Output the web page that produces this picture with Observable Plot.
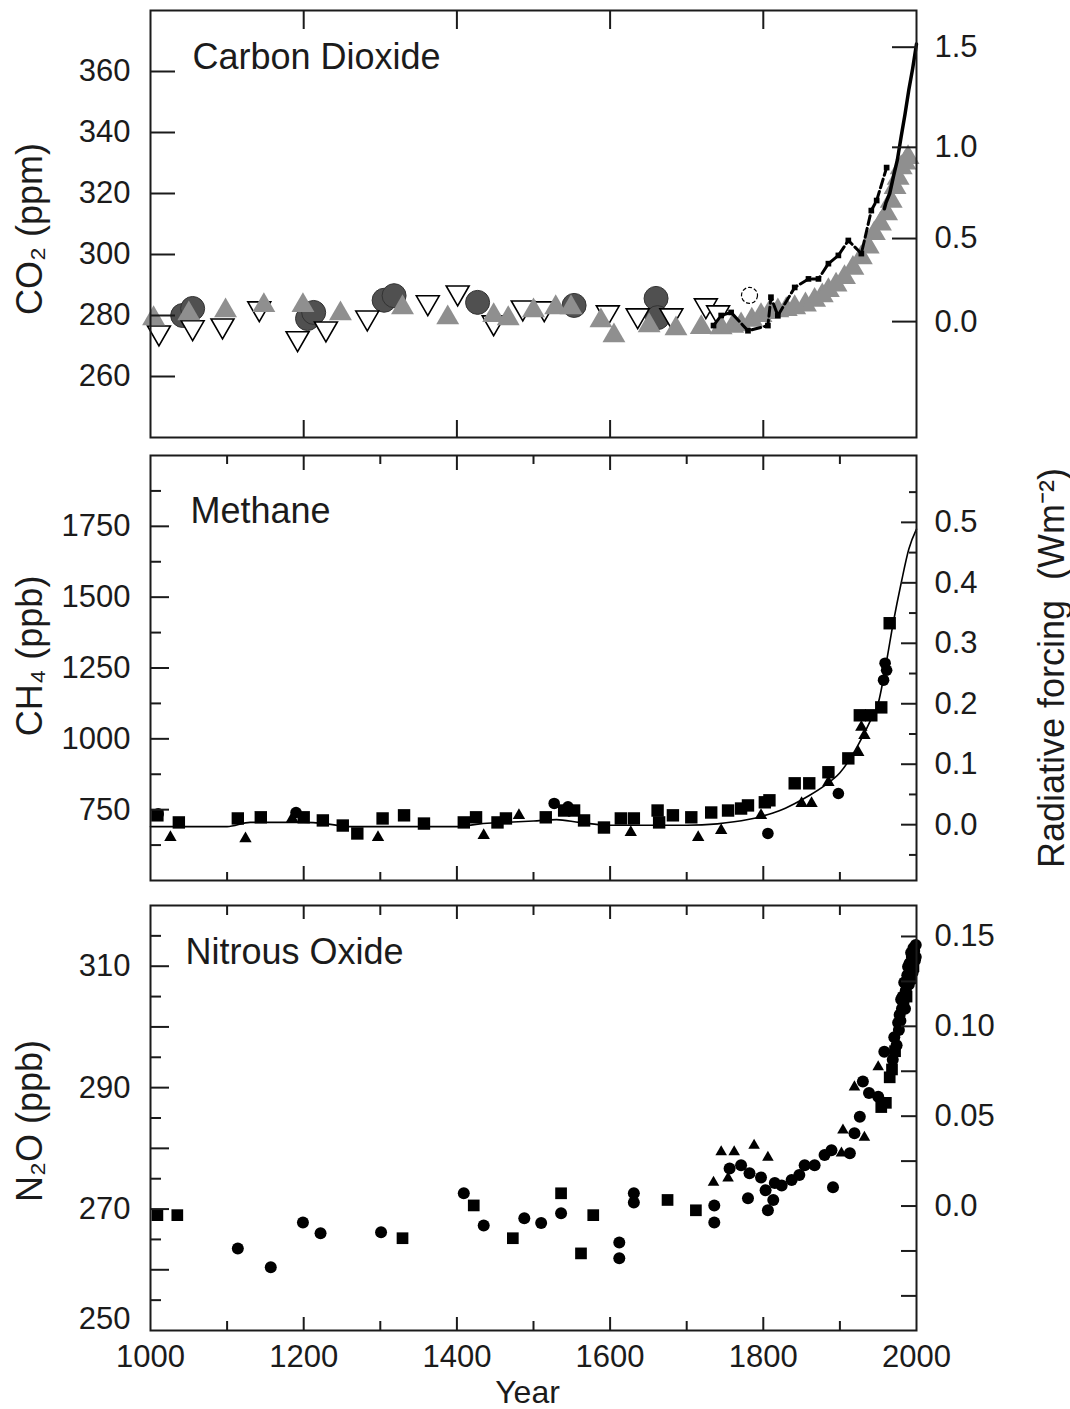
<!DOCTYPE html>
<html>
<head>
<meta charset="utf-8">
<script src="https://cdn.jsdelivr.net/npm/d3@7"></script>
<script src="https://cdn.jsdelivr.net/npm/@observablehq/plot@0.6"></script>
<style>
  body { margin: 0; background: #fff; }
  #chart { width: 1070px; height: 1409px; position: relative; background: #fff; }
  #chart svg { display: block; }
</style>
</head>
<body>
<div id="chart"></div>
<script>
// ---------------- DATA ----------------
// Carbon dioxide (ppm): [year, value]
const co2GreyTriangles = [
  [1004,279],[1050,280.6],[1098,281.6],[1148,283.3],[1199,283.3],[1248,280.6],[1329,282.6],
  [1388,279.3],[1448,280],[1467,279],[1500,281.6],[1529,282.6],[1549,282.6],[1588,278.3],
  [1605,273.4],[1651,276.7],[1686,275.7],[1719,276.1],[1745,276],[1760,276.5],[1771,277],
  [1785,278.5],[1797,280],[1808,281],[1819,281.6],[1830,282],[1841,282.6],[1855,283.5],
  [1867,285],[1877,286.5],[1885,288.2],[1895,290],[1906,292.5],[1917,295.5],[1928,299],
  [1937,302.5],[1945,306.9],[1953,310],[1961,313.4],[1967,317.5],[1972,322],[1976,325],
  [1980,328.5],[1985,330],[1989,331.8]
];
const co2OpenTriangles = [
  [1011,274.4],[1055,276.1],[1094,276.7],[1142,282.3],[1192,272.5],[1229,275.7],[1283,279.3],
  [1362,284.3],[1401,287.5],[1448,277.7],[1486,282.6],[1514,282.3],[1597,281],[1636,280],
  [1680,280],[1725,283.3],[1741,281]
];
const co2DarkCircles = [
  [1042,280],[1055,282.3],[1205,279],[1213,281],[1305,285],[1318,286.5],[1427,284.3],
  [1553,283.3],[1660,285.6],[1662,279.3]
];
const co2OpenCircles = [[1782,286.6]];
const co2BlackMarks = [
  [1735,276.7],[1745,280],[1758,281],[1780,275],[1806,276.7],[1810,286],[1819,280],
  [1841,289.2],[1859,292],[1872,292],[1885,297],[1898,299.7],[1911,304.6],[1928,300.3],
  [1941,314.4],[1948,317.7],[1961,328.5]
];
const co2MaunaLoa = [
  [1958,315],[1960,316.9],[1965,320],[1970,325.7],[1975,331],[1980,338.7],[1985,346],
  [1990,354],[1995,361],[2000,369]
];

// Methane (ppb)
const ch4Squares = [
  [1009,730],[1037,705],[1114,719],[1144,723],[1200,723],[1225,712],[1251,694],[1270,666],
  [1303,719],[1331,730],[1357,701],[1409,705],[1425,723],[1453,705],[1464,719],[1516,723],
  [1540,747],[1553,747],[1566,712],[1592,687],[1614,719],[1631,719],[1662,747],[1664,705],
  [1682,730],[1706,723],[1732,740],[1754,747],[1771,754],[1780,765],[1802,776],[1808,783],
  [1841,843],[1860,843],[1885,882],[1911,931],[1926,1083],[1941,1083],[1954,1111],[1965,1408]
];
const ch4Triangles = [
  [1026,652],[1124,648],[1185,719],[1297,652],[1435,659],[1481,730],[1627,670],[1715,652],
  [1745,677],[1797,730],[1850,772],[1863,772],[1885,846],[1924,952],[1932,1012],[1928,1041]
];
const ch4Circles = [
  [1010,735],[1190,740],[1527,772],[1545,760],[1806,666],[1898,807],[1957,1207],[1959,1267],
  [1961,1242]
];
const ch4Fit = [
  [1000,690],[1100,690],[1130,705],[1200,705],[1230,700],[1260,690],[1300,690],[1350,690],
  [1400,690],[1430,700],[1460,705],[1500,710],[1530,715],[1560,705],[1600,695],[1650,695],
  [1700,695],[1740,700],[1780,715],[1800,728],[1820,745],[1840,770],[1860,800],[1880,835],
  [1900,880],[1920,960],[1940,1065],[1950,1125],[1960,1260],[1970,1415],[1980,1550],
  [1990,1670],[2000,1740]
];

// Nitrous oxide (ppb)
const n2oSquares = [
  [1009,269],[1035,269],[1329,265.2],[1422,270.6],[1473,265.2],[1536,272.6],[1562,262.7],
  [1578,269],[1675,271.5],[1712,269.8],[1954,286.8],[1965,291.7],[1960,287.5],[1968,293],
  [1972,296],[1987,305],[1992,308],[1996,310]
];
const n2oCircles = [
  [1114,263.5],[1157,260.4],[1199,267.8],[1222,266],[1301,266.2],[1409,272.6],[1435,267.3],
  [1488,268.5],[1510,267.7],[1536,269.3],[1612,264.5],[1612,261.9],[1631,272.6],[1631,271.1],
  [1736,270.6],[1736,267.8],[1756,276.7],[1771,277.2],[1780,271.8],[1782,275.9],[1797,275.2],
  [1803,273.1],[1806,269.8],[1813,271.5],[1815,274.3],[1824,273.9],[1837,274.8],[1847,275.6],
  [1854,277.2],[1867,277.2],[1880,278.9],[1889,279.7],[1891,273.6],[1913,279.2],[1919,282.5],
  [1926,285.2],[1930,291],[1938,289.1],[1950,288.5],[1958,295.9],[1969,294.6],[1971,298.3],
  [1974,297],[1976,300.7],[1977,299.5],[1978,302],[1979,301],[1980,304.5],[1981,303],
  [1982,305],[1983,304],[1984,307.3],[1985,303],[1986,306],[1988,308.5],[1989,309.9],
  [1990,307],[1991,310.5],[1993,312.2],[1994,311.5],[1995,309],[1996,313],[1997,312.5],
  [1998,311],[1999,313.5],[1999,311.5]
];
const n2oTriangles = [
  [1735,274.4],[1745,279.4],[1754,275.1],[1762,279.4],[1788,280.5],[1806,278.5],[1902,279.2],
  [1904,283],[1932,281.8],[1919,290.1],[1950,293.4]
];

// ---------------- TICKS & LABELS ----------------
const yearMajor = [1200, 1400, 1600, 1800];
const yearMinor = [1100, 1300, 1500, 1700, 1900];
const yearLabels = [1000, 1200, 1400, 1600, 1800, 2000];

const co2Ticks = [260, 280, 300, 320, 340, 360];
const co2ForcingTicks = [0.0, 0.5, 1.0, 1.5];
const co2ForcingLabels = ["0.0", "0.5", "1.0", "1.5"];

const ch4Major = [750, 1000, 1250, 1500, 1750];
const ch4Minor = [625, 875, 1125, 1375, 1625, 1875];
const ch4ForcingTicks = [0.0, 0.1, 0.2, 0.3, 0.4, 0.5];
const ch4ForcingLabels = ["0.0", "0.1", "0.2", "0.3", "0.4", "0.5"];
const ch4ForcingMinor = [-0.05, 0.05, 0.15, 0.25, 0.35, 0.45, 0.55];

const n2oMajor = [260, 270, 280, 290, 300, 310];
const n2oMinor = [255, 265, 275, 285, 295, 305, 315];
const n2oLabels = [270, 290, 310];
const n2oBottomLabel = [250];
const n2oForcingTicks = [-0.05, -0.025, 0.0, 0.025, 0.05, 0.075, 0.10, 0.125, 0.15];
const n2oForcingLabelTicks = [0.0, 0.05, 0.10, 0.15];
const n2oForcingLabels = ["0.0", "0.05", "0.10", "0.15"];

// forcing -> concentration (position of right-hand axis ticks)
const co2FromForcing = f => 278 * Math.exp(f / 5.35);
const ch4FromForcing = f => 697 + 2134 * f;
const n2oFromForcing = f => 270.5 + 296 * f;

// ---------------- STYLE ----------------
const FONT = '"Liberation Sans", Arial, Helvetica, sans-serif';
const INK = "#1b1b1b";
const TICK_FS = 31;
const TITLE_FS = 36;

const rows = a => a.map(([year, value]) => ({year, value}));

function labelMap(pos, labels) {
  const m = new Map();
  pos.forEach((p, i) => m.set(p, labels[i]));
  return m;
}

function base(height, marginTop, marginBottom, domain, marks) {
  return Plot.plot({
    width: 1070, height,
    marginLeft: 150, marginRight: 154, marginTop, marginBottom,
    x: {domain: [1000, 2000]},
    y: {domain},
    style: {fontFamily: FONT, color: INK, background: "white", fontSize: TICK_FS + "px", overflow: "visible"},
    marks
  });
}

const tickX = (ticks, anchor, size) => Plot.axisX(ticks, {
  anchor, tickSize: size, dy: anchor === "top" ? size : -size, fill: "none", strokeWidth: 2
});
const tickY = (ticks, anchor, size) => Plot.axisY(ticks, {
  anchor, tickSize: size, dx: anchor === "left" ? size : -size, fill: "none", strokeWidth: 2
});
const labY = (ticks, anchor, fmt, extra = {}) => Plot.axisY(ticks, {
  anchor, tickSize: 0, tickPadding: anchor === "left" ? 20 : 18, tickFormat: fmt, label: null,
  fontSize: TICK_FS, ...extra
});

// ---------------- PANEL 1: CO2 ----------------
const co2RightPos = co2ForcingTicks.map(co2FromForcing);
const co2RightMap = labelMap(co2RightPos, co2ForcingLabels);

const p1 = base(447, 10, 10, [240, 380], [
  Plot.dot(rows(co2DarkCircles), {x: "year", y: "value", r: 12, fill: "#505050", stroke: "#333", strokeWidth: 1}),
  Plot.dot(rows(co2OpenTriangles), {x: "year", y: "value", symbol: "triangle", rotate: 180, r: 8.5, fill: "white", stroke: "black", strokeWidth: 1.6}),
  Plot.dot(rows(co2GreyTriangles), {x: "year", y: "value", symbol: "triangle", r: 8.5, fill: "#8f8f8f"}),
  Plot.dot(rows(co2OpenCircles), {x: "year", y: "value", r: 8, fill: "white", stroke: "black", strokeWidth: 1.2, strokeDasharray: "4,2"}),
  Plot.line(rows(co2BlackMarks), {x: "year", y: "value", stroke: "black", strokeWidth: 3, strokeDasharray: "9,4"}),
  Plot.dot(rows(co2BlackMarks), {x: "year", y: "value", symbol: "square", r: 3.2, fill: "black"}),
  Plot.line(rows(co2MaunaLoa), {x: "year", y: "value", stroke: "black", strokeWidth: 3.5}),
  Plot.frame({stroke: INK, strokeWidth: 2}),
  tickX(yearMajor, "top", 18),
  tickX(yearMajor, "bottom", 17),
  tickY(co2Ticks, "left", 25),
  labY(co2Ticks, "left", d => String(d)),
  tickY(co2RightPos, "right", 25),
  labY(co2RightPos, "right", d => co2RightMap.get(d)),
  Plot.text(["Carbon Dioxide"], {text: d => d, frameAnchor: "top-left", dx: 42, dy: 58, lineAnchor: "bottom", textAnchor: "start", fontSize: TITLE_FS}),
  Plot.text(["CO\u2082 (ppm)"], {text: d => d, frameAnchor: "left", dx: -120, dy: 5, rotate: -90, textAnchor: "middle", lineAnchor: "middle", fontSize: TITLE_FS})
]);

// ---------------- PANEL 2: CH4 ----------------
const ch4RightPos = ch4ForcingTicks.map(ch4FromForcing);
const ch4RightMinorPos = ch4ForcingMinor.map(ch4FromForcing);
const ch4RightMap = labelMap(ch4RightPos, ch4ForcingLabels);

const p2 = base(443, 8, 10, [500, 2000], [
  Plot.line(rows(ch4Fit), {x: "year", y: "value", stroke: "black", strokeWidth: 1.6, curve: "monotone-x"}),
  Plot.dot(rows(ch4Triangles), {x: "year", y: "value", symbol: "triangle", r: 4.6, fill: "black"}),
  Plot.dot(rows(ch4Circles), {x: "year", y: "value", r: 5.8, fill: "black"}),
  Plot.dot(rows(ch4Squares), {x: "year", y: "value", symbol: "square", r: 7, fill: "black"}),
  Plot.frame({stroke: INK, strokeWidth: 2}),
  tickX(yearMajor, "top", 14), tickX(yearMinor, "top", 8),
  tickX(yearMajor, "bottom", 14), tickX(yearMinor, "bottom", 8),
  tickY(ch4Major, "left", 19), tickY(ch4Minor, "left", 11),
  labY(ch4Major, "left", d => String(d)),
  tickY(ch4RightPos, "right", 16), tickY(ch4RightMinorPos, "right", 8),
  labY(ch4RightPos, "right", d => ch4RightMap.get(d)),
  Plot.text(["Methane"], {text: d => d, frameAnchor: "top-left", dx: 40, dy: 67, lineAnchor: "bottom", textAnchor: "start", fontSize: TITLE_FS}),
  Plot.text(["CH\u2084 (ppb)"], {text: d => d, frameAnchor: "left", dx: -120, dy: -12, rotate: -90, textAnchor: "middle", lineAnchor: "middle", fontSize: TITLE_FS}),
  Plot.text(["Radiative forcing  (Wm\u207B\u00B2)"], {text: d => d, frameAnchor: "right", dx: 136, dy: 0, rotate: -90, textAnchor: "middle", lineAnchor: "middle", fontSize: TITLE_FS})
]);

// ---------------- PANEL 3: N2O ----------------
const n2oRightPos = n2oForcingTicks.map(n2oFromForcing);
const n2oRightLabelPos = n2oForcingLabelTicks.map(n2oFromForcing);
const n2oRightMap = labelMap(n2oRightLabelPos, n2oForcingLabels);

const p3 = base(519, 15, 79, [250, 320], [
  Plot.dot(rows(n2oTriangles), {x: "year", y: "value", symbol: "triangle", r: 4.3, fill: "black"}),
  Plot.dot(rows(n2oCircles), {x: "year", y: "value", r: 6, fill: "black"}),
  Plot.dot(rows(n2oSquares), {x: "year", y: "value", symbol: "square", r: 6.6, fill: "black"}),
  Plot.frame({stroke: INK, strokeWidth: 2}),
  tickX(yearMajor, "top", 13), tickX(yearMinor, "top", 9),
  tickX(yearMajor, "bottom", 13), tickX(yearMinor, "bottom", 9),
  tickY(n2oMajor, "left", 19), tickY(n2oMinor, "left", 11),
  labY(n2oLabels, "left", d => String(d)),
  labY(n2oBottomLabel, "left", d => String(d), {dy: -11}),
  tickY(n2oRightPos, "right", 16),
  labY(n2oRightLabelPos, "right", d => n2oRightMap.get(d)),
  Plot.axisX(yearLabels, {anchor: "bottom", tickSize: 0, tickPadding: 14, tickFormat: d => String(d), label: null, fontSize: TICK_FS}),
  Plot.text(["Year"], {text: d => d, frameAnchor: "bottom", dx: -6, dy: 62, lineAnchor: "middle", textAnchor: "middle", fontSize: 32}),
  Plot.text(["Nitrous Oxide"], {text: d => d, frameAnchor: "top-left", dx: 35, dy: 58, lineAnchor: "bottom", textAnchor: "start", fontSize: TITLE_FS}),
  Plot.text(["N\u2082O (ppb)"], {text: d => d, frameAnchor: "left", dx: -120, dy: 3, rotate: -90, textAnchor: "middle", lineAnchor: "middle", fontSize: TITLE_FS})
]);

const chart = document.getElementById("chart");
chart.append(p1, p2, p3);
</script>
</body>
</html>
